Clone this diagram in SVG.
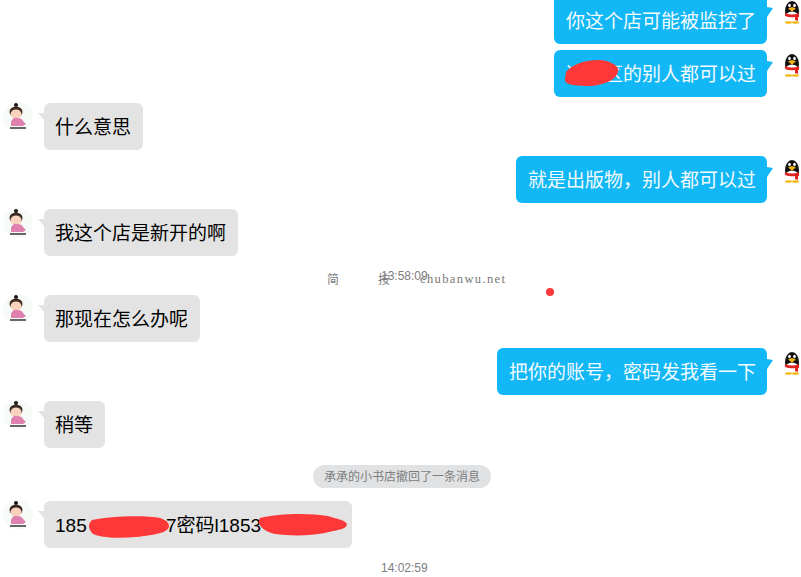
<svg xmlns="http://www.w3.org/2000/svg" width="801" height="577" viewBox="0 0 801 577">
<style>
.m{font:19px "Noto Sans CJK SC","Liberation Sans",sans-serif}
.w{fill:#f4fbff}.k{fill:#000}
.r{fill:#12b7f5}.l{fill:#e3e3e3}
.t{font:12px "Liberation Sans","Noto Sans CJK SC",sans-serif;fill:#7d7d7d}
.x{fill:#fe3838}
</style>
<defs>
<g id="qq">
<ellipse cx="0" cy="-1" rx="7" ry="10" fill="#111"/>
<ellipse cx="0" cy="5" rx="6.500" ry="5.500" fill="#fff"/>
<path d="M-7 1Q0 4 7 1V5H6V9L3 8V5Q-2 6-7 4z" fill="#e02320"/>
<path d="M-4-3.500 0-5 4-3.500 0-.5z" fill="#f5b50f"/>
<ellipse cx="-2.500" cy="-6.500" rx="1.300" ry="1.800" fill="#fff"/><ellipse cx="2.500" cy="-6.500" rx="1.300" ry="1.800" fill="#fff"/>
<ellipse cx="-3.500" cy="10.500" rx="3.500" ry="1.200" fill="#f5b50f"/><ellipse cx="3.500" cy="10.500" rx="3.500" ry="1.200" fill="#f5b50f"/>
</g>
<g id="girl">
<circle cx="0" cy="0" r="15" fill="#f7fbf7"/>
<circle cx="-2" cy="-12" r="2" fill="#1c1410"/>
<ellipse cx="-2" cy="-5" rx="6.500" ry="5.500" fill="#3a2a22"/>
<ellipse cx="-2" cy="-3" rx="5.500" ry="4.500" fill="#f8d2bd"/>
<path d="M-7 5Q-5 0-1 1 4 1 5 4L8 7 5 9H-7z" fill="#df80ae"/>
<rect x="-8" y="10" width="16" height="2" fill="#666"/>
</g>
<path id="tl" d="M0 0H6V7z" class="l"/>
<path id="tr" d="M0 0-6-1V9z" class="r"/>
</defs>

<g id="msg-1"><rect class="r" x="554" y="-10" width="213" height="54" rx="6"/><use href="#tr" x="773" y="8"/><text class="m w" x="566" y="28">你这个店可能被监控了</text><use href="#qq" x="792" y="12"/></g>
<g id="msg-2"><rect class="r" x="554" y="50" width="213" height="47" rx="6"/><use href="#tr" x="773" y="62"/><text class="m w" x="566" y="81">这个区的别人都可以过</text><path class="x" d="M566 72C572 65 582 60 600 60 612 61 620 67 618 72 616 80 604 85 590 86 575 86 564 85 565 79z"/><use href="#qq" x="792" y="65"/></g>
<g id="msg-3"><use href="#girl" x="18" y="117"/><use href="#tl" x="38" y="113"/><rect class="l" x="44" y="103" width="99" height="47" rx="6"/><text class="m k" x="55" y="134">什么意思</text></g>
<g id="msg-4"><rect class="r" x="516" y="156" width="251" height="47" rx="6"/><use href="#tr" x="773" y="168"/><text class="m w" x="528" y="187">就是出版物，别人都可以过</text><use href="#qq" x="792" y="171"/></g>
<g id="msg-5"><use href="#girl" x="18" y="223"/><use href="#tl" x="38" y="219"/><rect class="l" x="44" y="209" width="194" height="47" rx="6"/><text class="m k" x="55" y="240">我这个店是新开的啊</text></g>
<g id="stamp-1"><text class="t" x="327" y="284">简</text><text class="t" x="378" y="284">按</text><text class="t" x="381" y="280">13:58:09</text><text x="420" y="283" textLength="85" style="font:12.500px 'Liberation Serif',serif" fill="#777">chubanwu.net</text><circle class="x" cx="550" cy="292" r="4"/></g>
<g id="msg-6"><use href="#girl" x="18" y="309"/><use href="#tl" x="38" y="305"/><rect class="l" x="44" y="295" width="156" height="47" rx="6"/><text class="m k" x="55" y="326">那现在怎么办呢</text></g>
<g id="msg-7"><rect class="r" x="497" y="348" width="270" height="47" rx="6"/><use href="#tr" x="773" y="360"/><text class="m w" x="509" y="379">把你的账号，密码发我看一下</text><use href="#qq" x="792" y="363"/></g>
<g id="msg-8"><use href="#girl" x="18" y="415"/><use href="#tl" x="38" y="411"/><rect class="l" x="44" y="401" width="61" height="47" rx="6"/><text class="m k" x="55" y="432">稍等</text></g>
<g id="notice"><rect x="313" y="465" width="178" height="23" rx="11.500" fill="#e1e2e4"/><text class="t" x="324" y="481">承承的小书店撤回了一条消息</text></g>
<g id="msg-9"><use href="#girl" x="18" y="515"/><use href="#tl" x="38" y="511"/><rect class="l" x="44" y="501" width="308" height="47" rx="6"/><text class="m k" x="55" y="532" style="font-family:'Liberation Sans','Noto Sans CJK SC',sans-serif">185</text><text class="m k" x="166" y="532" style="font-family:'Liberation Sans','Noto Sans CJK SC',sans-serif">7密码l1853</text><path class="x" d="M92 520C110 516 145 515 160 518 172 522 172 530 160 533 150 536 142 536 136 537 115 539 96 537 92 533 88 528 88 524 92 520z"/><path class="x" d="M260 518C280 513 310 513 328 516 336 519 347 520 347 525 345 530 335 530 325 533 310 536 290 536 275 534 262 531 256 523 260 518z"/></g>
<text class="t" x="381" y="572">14:02:59</text>
</svg>
